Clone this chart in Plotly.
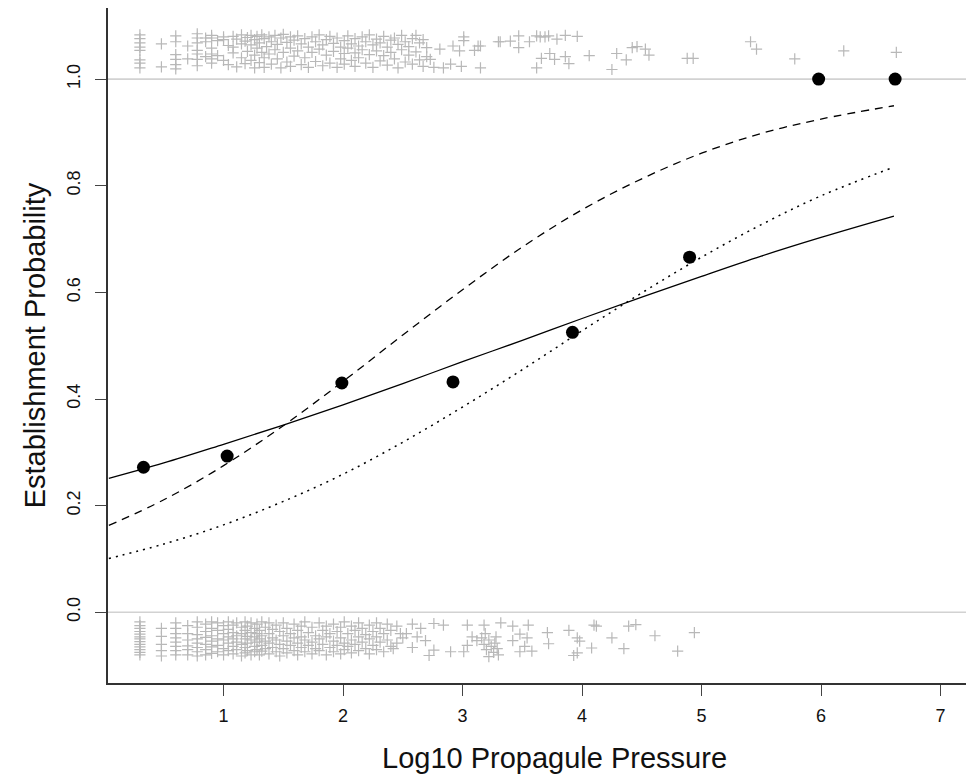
import plotly.graph_objects as go

# ---------------- data ----------------
# Binned establishment proportions (black dots)
bin_x = [0.33, 1.03, 1.99, 2.92, 3.92, 4.90, 5.98, 6.62]
bin_y = [0.272, 0.293, 0.430, 0.432, 0.525, 0.666, 1.0, 1.0]

# Fitted curves, values read at these x positions
curve_x = [0.04, 0.5, 1.0, 1.5, 2.0, 2.5, 3.0, 3.5, 4.0, 4.5, 5.0, 5.5, 6.0, 6.61]
solid_y = [0.251, 0.280, 0.315, 0.351, 0.389, 0.429, 0.470, 0.510, 0.551, 0.591, 0.630, 0.668, 0.703, 0.743]
dashed_y = [0.163, 0.211, 0.275, 0.350, 0.433, 0.520, 0.605, 0.685, 0.755, 0.813, 0.861, 0.898, 0.925, 0.950]
dotted_y = [0.101, 0.128, 0.164, 0.208, 0.259, 0.319, 0.385, 0.455, 0.528, 0.599, 0.666, 0.727, 0.781, 0.835]

# Jittered raw observations: established (near 1) grouped by x column
top_cols = {
    0.30: [1.083, 1.076, 1.068, 1.060, 1.054, 1.036, 1.030, 1.021],
    0.48: [1.066, 1.023],
    0.60: [1.081, 1.070, 1.046, 1.037, 1.027, 1.019],
    0.70: [1.062, 1.038],
    0.78: [1.085, 1.077, 1.068, 1.054, 1.047, 1.037, 1.025],
    0.85: [1.077, 1.070, 1.042],
    0.90: [1.082, 1.077, 1.058, 1.047, 1.038, 1.030],
    0.95: [1.072, 1.044],
    1.00: [1.079, 1.074, 1.035],
    1.04: [1.063, 1.027],
    1.08: [1.080, 1.060, 1.049],
    1.11: [1.075, 1.023],
    1.15: [1.083, 1.066, 1.040],
    1.18: [1.071, 1.029],
    1.20: [1.078, 1.052],
    1.23: [1.082, 1.064, 1.035],
    1.26: [1.074, 1.045, 1.021],
    1.28: [1.080, 1.058],
    1.30: [1.068, 1.031],
    1.32: [1.083, 1.050],
    1.34: [1.076, 1.040, 1.022],
    1.36: [1.061],
    1.38: [1.079, 1.047],
    1.40: [1.070, 1.028],
    1.43: [1.082, 1.055],
    1.45: [1.065, 1.038],
    1.48: [1.077, 1.021],
    1.50: [1.084, 1.050],
    1.53: [1.069, 1.032],
    1.56: [1.079, 1.058, 1.024],
    1.59: [1.073, 1.043],
    1.62: [1.081, 1.053],
    1.65: [1.066, 1.027],
    1.68: [1.076, 1.040],
    1.71: [1.060, 1.022],
    1.74: [1.079, 1.050],
    1.77: [1.070, 1.033],
    1.80: [1.083, 1.056],
    1.83: [1.064, 1.025],
    1.86: [1.074, 1.045],
    1.89: [1.080, 1.030],
    1.92: [1.067, 1.052],
    1.95: [1.077, 1.022],
    1.98: [1.060, 1.038],
    2.01: [1.072, 1.048, 1.028],
    2.04: [1.081, 1.058],
    2.07: [1.066, 1.035],
    2.10: [1.076, 1.049, 1.024],
    2.13: [1.062, 1.040],
    2.16: [1.079, 1.055],
    2.19: [1.070, 1.030],
    2.22: [1.083, 1.046],
    2.25: [1.064, 1.022],
    2.28: [1.075, 1.053],
    2.31: [1.068, 1.034],
    2.34: [1.080, 1.044],
    2.37: [1.060, 1.026],
    2.40: [1.073, 1.050],
    2.43: [1.077, 1.038],
    2.46: [1.065, 1.021],
    2.49: [1.082, 1.055],
    2.52: [1.070, 1.032],
    2.55: [1.061, 1.045],
    2.58: [1.076, 1.028],
    2.61: [1.082, 1.051],
    2.64: [1.068, 1.036],
    2.67: [1.074, 1.024],
    2.70: [1.059, 1.042],
    2.73: [1.037],
    2.76: [1.022],
    2.81: [1.056],
    2.84: [1.021],
    2.90: [1.028],
    2.92: [1.062],
    2.975: [1.053],
    2.99: [1.024],
    3.01: [1.079, 1.072],
    3.10: [1.054],
    3.13: [1.062],
    3.15: [1.062, 1.021],
    3.30: [1.070],
    3.315: [1.070],
    3.40: [1.071],
    3.47: [1.081, 1.059],
    3.56: [1.070],
    3.62: [1.021, 1.081],
    3.65: [1.079],
    3.66: [1.039],
    3.69: [1.079],
    3.72: [1.081],
    3.73: [1.048],
    3.77: [1.037],
    3.79: [1.075],
    3.86: [1.082, 1.042],
    3.89: [1.029],
    3.96: [1.080],
    4.06: [1.044],
    4.25: [1.018],
    4.29: [1.048],
    4.37: [1.036],
    4.42: [1.059],
    4.46: [1.061],
    4.53: [1.056],
    4.56: [1.045],
    4.88: [1.039],
    4.93: [1.039],
    5.41: [1.070],
    5.46: [1.056],
    5.78: [1.038],
    6.19: [1.053],
    6.63: [1.050],
}

# Jittered raw observations: failed (near 0) grouped by x column
bottom_cols = {
    0.30: [-0.018, -0.025, -0.030, -0.036, -0.041, -0.046, -0.050, -0.055, -0.060, -0.065, -0.070, -0.075, -0.080],
    0.48: [-0.030, -0.045, -0.060, -0.072, -0.082],
    0.60: [-0.020, -0.030, -0.040, -0.048, -0.056, -0.064, -0.072, -0.080],
    0.70: [-0.025, -0.040, -0.052, -0.063, -0.070, -0.080],
    0.78: [-0.018, -0.028, -0.042, -0.050, -0.058, -0.066, -0.074, -0.082],
    0.85: [-0.022, -0.036, -0.047, -0.060, -0.070, -0.080],
    0.90: [-0.018, -0.030, -0.044, -0.054, -0.065, -0.077],
    0.95: [-0.020, -0.034, -0.050, -0.062, -0.074],
    1.00: [-0.025, -0.040, -0.052, -0.068, -0.080],
    1.04: [-0.018, -0.032, -0.046, -0.058, -0.072],
    1.08: [-0.024, -0.038, -0.050, -0.064, -0.078],
    1.11: [-0.020, -0.044, -0.056, -0.070],
    1.15: [-0.028, -0.040, -0.060, -0.082],
    1.18: [-0.018, -0.034, -0.050, -0.066, -0.076],
    1.20: [-0.026, -0.045, -0.058, -0.072],
    1.23: [-0.020, -0.038, -0.052, -0.080],
    1.26: [-0.030, -0.046, -0.064, -0.074],
    1.28: [-0.022, -0.040, -0.056, -0.070],
    1.30: [-0.034, -0.050, -0.080],
    1.32: [-0.018, -0.044, -0.062, -0.073],
    1.35: [-0.028, -0.054, -0.068],
    1.38: [-0.020, -0.040, -0.058, -0.078],
    1.41: [-0.032, -0.048, -0.066],
    1.44: [-0.024, -0.052, -0.074],
    1.47: [-0.036, -0.060, -0.082],
    1.50: [-0.020, -0.044, -0.068],
    1.53: [-0.030, -0.054, -0.076],
    1.56: [-0.040, -0.062],
    1.59: [-0.022, -0.048, -0.072],
    1.62: [-0.034, -0.058, -0.080],
    1.65: [-0.026, -0.046, -0.066],
    1.68: [-0.018, -0.052, -0.074],
    1.71: [-0.038, -0.062],
    1.74: [-0.028, -0.056, -0.078],
    1.77: [-0.044, -0.068],
    1.80: [-0.020, -0.050, -0.072],
    1.83: [-0.034, -0.060],
    1.86: [-0.026, -0.046, -0.080],
    1.89: [-0.040, -0.066],
    1.92: [-0.022, -0.054, -0.074],
    1.95: [-0.036, -0.062],
    1.98: [-0.028, -0.048, -0.078],
    2.01: [-0.018, -0.058, -0.070],
    2.04: [-0.040, -0.064],
    2.07: [-0.026, -0.052, -0.076],
    2.10: [-0.034, -0.060],
    2.13: [-0.020, -0.046, -0.072],
    2.16: [-0.030, -0.056],
    2.19: [-0.042, -0.068],
    2.22: [-0.024, -0.050, -0.078],
    2.25: [-0.036, -0.062],
    2.28: [-0.020, -0.046, -0.070],
    2.31: [-0.030, -0.056],
    2.34: [-0.040, -0.074],
    2.37: [-0.022, -0.052],
    2.40: [-0.034, -0.064],
    2.42: [-0.068],
    2.45: [-0.026, -0.058],
    2.48: [-0.040],
    2.50: [-0.048],
    2.53: [-0.040],
    2.58: [-0.022, -0.066],
    2.62: [-0.046],
    2.65: [-0.030],
    2.69: [-0.053],
    2.72: [-0.081],
    2.76: [-0.021, -0.071],
    2.84: [-0.024],
    2.90: [-0.074],
    3.01: [-0.074],
    3.04: [-0.024, -0.062],
    3.08: [-0.046],
    3.12: [-0.053],
    3.16: [-0.048],
    3.18: [-0.024, -0.060],
    3.19: [-0.040],
    3.20: [-0.070],
    3.22: [-0.052, -0.083],
    3.24: [-0.064],
    3.26: [-0.075],
    3.27: [-0.058],
    3.28: [-0.046],
    3.29: [-0.068],
    3.30: [-0.080],
    3.32: [-0.020],
    3.42: [-0.026, -0.053],
    3.48: [-0.041, -0.074],
    3.52: [-0.064],
    3.54: [-0.048],
    3.55: [-0.024],
    3.58: [-0.073],
    3.71: [-0.038],
    3.72: [-0.059],
    3.89: [-0.034],
    3.93: [-0.081],
    3.96: [-0.048, -0.076],
    3.98: [-0.054],
    4.08: [-0.067],
    4.10: [-0.024],
    4.12: [-0.026],
    4.25: [-0.048],
    4.35: [-0.068],
    4.39: [-0.026],
    4.45: [-0.023],
    4.61: [-0.044],
    4.80: [-0.073],
    4.94: [-0.038],
}

ref_levels = [0.0, 1.0]
x_ticks = [1, 2, 3, 4, 5, 6, 7]
y_ticks = [0.0, 0.2, 0.4, 0.6, 0.8, 1.0]
y_tick_text = ["0.0", "0.2", "0.4", "0.6", "0.8", "1.0"]
x_title = "Log10 Propagule Pressure"
y_title = "Establishment Probability"

# ---------------- build figure ----------------
def flatten(cols):
    xs, ys = [], []
    for k, vals in cols.items():
        for v in vals:
            xs.append(k)
            ys.append(v)
    return xs, ys

tx, ty = flatten(top_cols)
bx, by = flatten(bottom_cols)

fig = go.Figure()

cross_style = dict(symbol="cross-thin", size=8,
                   line=dict(color="#b8b8b8", width=1.2), color="#b8b8b8")

for lvl in ref_levels:
    fig.add_hline(y=lvl, line=dict(color="#d2d2d2", width=1.6), layer="below")

fig.add_trace(go.Scatter(x=tx, y=ty, mode="markers", marker=cross_style,
                         showlegend=False, hoverinfo="skip"))
fig.add_trace(go.Scatter(x=bx, y=by, mode="markers", marker=cross_style,
                         showlegend=False, hoverinfo="skip"))

fig.add_trace(go.Scatter(x=curve_x, y=solid_y, mode="lines", line_shape="spline",
                         line=dict(color="black", width=1.3), showlegend=False))
fig.add_trace(go.Scatter(x=curve_x, y=dashed_y, mode="lines", line_shape="spline",
                         line=dict(color="black", width=1.3, dash="8px,6px"), showlegend=False))
fig.add_trace(go.Scatter(x=curve_x, y=dotted_y, mode="lines", line_shape="spline",
                         line=dict(color="black", width=1.5, dash="2px,5px"), showlegend=False))

fig.add_trace(go.Scatter(x=bin_x, y=bin_y, mode="markers",
                         marker=dict(color="black", size=13), showlegend=False))

font_family = "Liberation Sans, Arial, Helvetica, sans-serif"

# the page adds an 8px body margin; size the figure so it fits the window without overflow
fig.update_layout(
    width=966, height=768,
    margin=dict(l=100, r=0, t=0, b=93),
    paper_bgcolor="white", plot_bgcolor="white",
    font=dict(family=font_family, color="#111"),
    showlegend=False,
)

# x title placed as an annotation, centred on the original (wider, cropped) plot region
fig.add_annotation(text=x_title, xref="paper", yref="paper", x=0.516, y=-0.111,
                   xanchor="center", yanchor="middle", showarrow=False,
                   font=dict(size=29, color="#111"))

fig.update_xaxes(
    range=[0.033, 7.28], tickvals=x_ticks, ticktext=[str(t) for t in x_ticks],
    showgrid=False, zeroline=False, automargin=False,
    showline=True, linecolor="#333", linewidth=1.5, mirror=False,
    ticks="outside", ticklen=11, tickwidth=1.3, tickcolor="#444",
    tickfont=dict(size=18, color="#111"), ticklabelstandoff=5,
)
fig.update_yaxes(
    range=[-0.1326, 1.1333], tickvals=y_ticks, ticktext=y_tick_text,
    showgrid=False, zeroline=False, automargin=False,
    showline=True, linecolor="#333", linewidth=1.5, mirror=False,
    ticks="outside", ticklen=11, tickwidth=1.3, tickcolor="#444",
    tickangle=-90, tickfont=dict(size=18, color="#111"), ticklabelstandoff=8,
    title=dict(text=y_title, font=dict(size=29, color="#111"), standoff=10),
)

fig.write_html("out.html")
